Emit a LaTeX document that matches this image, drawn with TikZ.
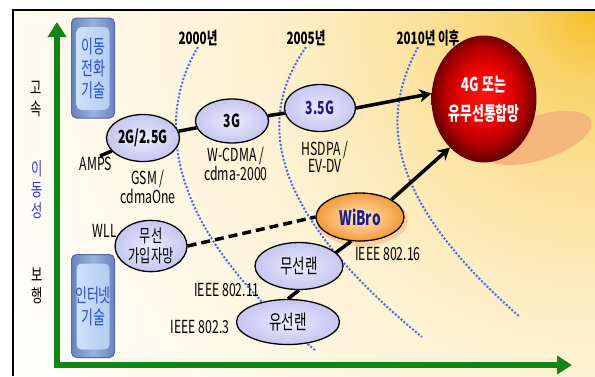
\documentclass[tikz,border=0pt]{standalone}
\usepackage{fontspec}
\setmainfont{Noto Sans CJK KR}[FakeStretch=0.68]
\usetikzlibrary{arrows.meta,shapes.geometric}
\definecolor{axisgreen}{HTML}{128512}
\definecolor{eraline}{HTML}{3C6CF0}
\definecolor{mobblue}{HTML}{3434D8}
\definecolor{boxtext}{HTML}{2A4CC8}
\definecolor{boxedge}{HTML}{52699E}
\definecolor{boxrim}{HTML}{6A84BC}
\definecolor{boxmid}{HTML}{98B2E0}
\definecolor{panelA}{HTML}{AEC8EE}
\definecolor{panelB}{HTML}{D2E4FB}
\definecolor{navytext}{HTML}{1C1C8C}
\definecolor{g4shadow}{HTML}{F5B67B}
\definecolor{wibrohalo}{HTML}{F9CE9C}
\definecolor{glow0}{HTML}{F6BE28}
\definecolor{glow1}{HTML}{F9D368}
\definecolor{glow2}{HTML}{FCE4A4}
\definecolor{glow3}{HTML}{FEF1D0}
\definecolor{glow4}{HTML}{FFF8E8}
\definecolor{lav0}{HTML}{EEEEFF}
\definecolor{lav1}{HTML}{DADAF8}
\definecolor{lav2}{HTML}{C6C6F0}
\definecolor{red0}{HTML}{FF1410}
\definecolor{red1}{HTML}{EC0404}
\definecolor{red2}{HTML}{B40000}
\definecolor{red3}{HTML}{680000}
\definecolor{org0}{HTML}{FFF2DC}
\definecolor{org1}{HTML}{FBC888}
\definecolor{org2}{HTML}{F39A38}
\pgfdeclareradialshading{warmglow}{\pgfpoint{0bp}{0bp}}{color(0bp)=(glow0); color(2.5bp)=(glow1); color(7bp)=(glow2); color(12bp)=(glow3); color(17.5bp)=(glow4); color(25bp)=(white); color(50bp)=(white)}
\pgfdeclareradialshading{lavglow}{\pgfpoint{0bp}{0bp}}{color(0bp)=(lav0); color(11bp)=(lav1); color(25bp)=(lav2); color(50bp)=(lav2)}
\pgfdeclareradialshading{redglow}{\pgfpoint{0bp}{2bp}}{color(0bp)=(red0); color(11bp)=(red1); color(19bp)=(red2); color(25bp)=(red3); color(50bp)=(red3)}
\pgfdeclareradialshading{orangeglow}{\pgfpoint{0bp}{0bp}}{color(0bp)=(org0); color(10bp)=(org1); color(25bp)=(org2); color(50bp)=(org2)}

\begin{document}
\begin{tikzpicture}[x=1pt,y=-1pt,>={Stealth[length=12pt,width=13pt]},
  every node/.style={font=\fontsize{18}{18}\selectfont},
  tag/.style={align=center,inner sep=1pt,font=\fontsize{18}{17}\selectfont},
  yearlbl/.style={inner sep=1pt,font=\fontsize{17}{17}\selectfont\bfseries},
  axislbl/.style={align=center,inner sep=0pt,font=\fontsize{18}{21}\selectfont},
  techbox/.style={rounded corners=5pt,draw=boxedge,line width=1pt,minimum width=43pt,inner sep=0pt,align=center,text=boxtext,font=\fontsize{19}{22}\selectfont,left color=boxrim,right color=boxrim,middle color=boxmid,
    path picture={\shade[left color=panelB,right color=panelA] ([xshift=5pt,yshift=-9pt]path picture bounding box.north west) rectangle ([xshift=-5pt,yshift=8pt]path picture bounding box.south east);}},
  gen/.style={ellipse,draw,line width=1.3pt,inner sep=0pt,shade,shading=lavglow,align=center,font=\fontsize{18}{18}\selectfont\bfseries},
  core/.style={ellipse,inner sep=0pt,minimum width=105pt,minimum height=127pt,shade,shading=redglow,text=white,align=center,font=\fontsize{19}{29}\selectfont\bfseries},
  wibrostyle/.style={ellipse,draw,line width=1.3pt,inner sep=0pt,minimum width=88pt,minimum height=48pt,shade,shading=orangeglow,text=navytext,font=\fontsize{20}{20}\selectfont\bfseries},
  link/.style={line width=3.5pt},
  era/.style={draw=eraline,line width=2pt,dash pattern=on 2pt off 1.8pt},
  axis/.style={draw=axisgreen,line width=5.5pt,arrows={Triangle[length=15pt,width=18pt]-Triangle[length=15pt,width=18pt]}}]
  \useasboundingbox (0,0) rectangle (595,376);
  \fill[white] (0,0) rectangle (595,376);
  % background glow
  \begin{scope}
    \clip (13,10) rectangle (595,376);
    \shade[shading=warmglow] (595,10) circle (700pt);
  \end{scope}
  \draw[line width=1.5pt] (13,376) -- (13,10) -- (595,10);
  % axes
  \coordinate (ytop) at (57,22);
  \coordinate (origin) at (57,365);
  \coordinate (xend) at (572,365);
  \draw[axis] (ytop) -- (origin) -- (xend);
  \node[axislbl] (fast) at (36,99) {고\\속};
  \node[axislbl,text=mobblue] (mobility) at (37,190) {이\\동\\성};
  \node[axislbl] (walk) at (37,286) {보\\행};
  % tech boxes
  \node[techbox,minimum height=100pt] (mobtech) at (93,68) {이동\\전화\\기술};
  \node[techbox,minimum height=103pt] (nettech) at (93,306) {인터넷\\기술};
  % eras
  \node[yearlbl] (yr2000) at (198,38) {2000년};
  \node[yearlbl] (yr2005) at (306,38) {2005년};
  \node[yearlbl] (yr2010) at (428,38) {2010년 이후};
  \draw[era] (yr2000.south) .. controls (160,110) and (155,220) .. (315,350);
  \draw[era] (yr2005.south) .. controls (262,110) and (255,200) .. (422,337);
  \draw[era] ([xshift=-10pt]yr2010.south) .. controls (385,110) and (375,190) .. (520,317);
  % shadows
  \fill[g4shadow,rotate around={18:(538,138)}] (538,138) ellipse (56pt and 22pt);
  \fill[wibrohalo] (362,220) ellipse (46pt and 26pt);
  % generations
  \node[gen,minimum width=73pt,minimum height=47pt] (g2) at (143,138) {2G/2.5G};
  \node[gen,minimum width=73pt,minimum height=44pt] (g3) at (232,121) {3G};
  \node[gen,minimum width=71pt,minimum height=47pt,text=navytext] (g35) at (320,108) {3.5G};
  \node[core] (g4) at (484,99) {4G 또는\\유무선통합망};
  \node[wibrostyle] (wibro) at (360,217) {WiBro};
  \node[gen,font=\fontsize{18}{20}\selectfont,minimum width=72pt,minimum height=48pt] (wll) at (151,246) {무선\\가입자망};
  \node[gen,font=\fontsize{20}{20}\selectfont,minimum width=88pt,minimum height=47pt] (wlan) at (299,266) {무선랜};
  \node[gen,font=\fontsize{20}{20}\selectfont,minimum width=103pt,minimum height=45pt] (lan) at (288,322) {유선랜};
  % standards
  \node[tag] (amps) at (96,164) {AMPS};
  \node[tag] (gsm) at (148,187) {GSM /\\cdmaOne};
  \node[tag] (wcdma) at (236,164) {W-CDMA /\\cdma-2000};
  \node[tag] (hsdpa) at (325,157) {HSDPA /\\EV-DV};
  \node[tag] (wlltag) at (105,231) {WLL};
  \node[tag] (ieee16) at (388,254) {IEEE 802.16};
  \node[tag] (ieee11) at (227,290) {IEEE 802.11};
  \node[tag] (ieee3) at (200,327) {IEEE 802.3};
  % links
  \draw[link] ([xshift=4pt]amps.north) -- (g2);
  \draw[link] (g2) -- (g3);
  \draw[link] (g3) -- (g35);
  \draw[link,->] (g35.east) -- (g4.174);
  \draw[link,->] (wibro.north east) -- (g4.235);
  \draw[link,dash pattern=on 9pt off 5pt] (wll.east) -- (wibro.west);
  \draw[link] (wlan.20) -- (wibro.250);
  \draw[link] (lan.north) -- (wlan.south);
\end{tikzpicture}
\end{document}
